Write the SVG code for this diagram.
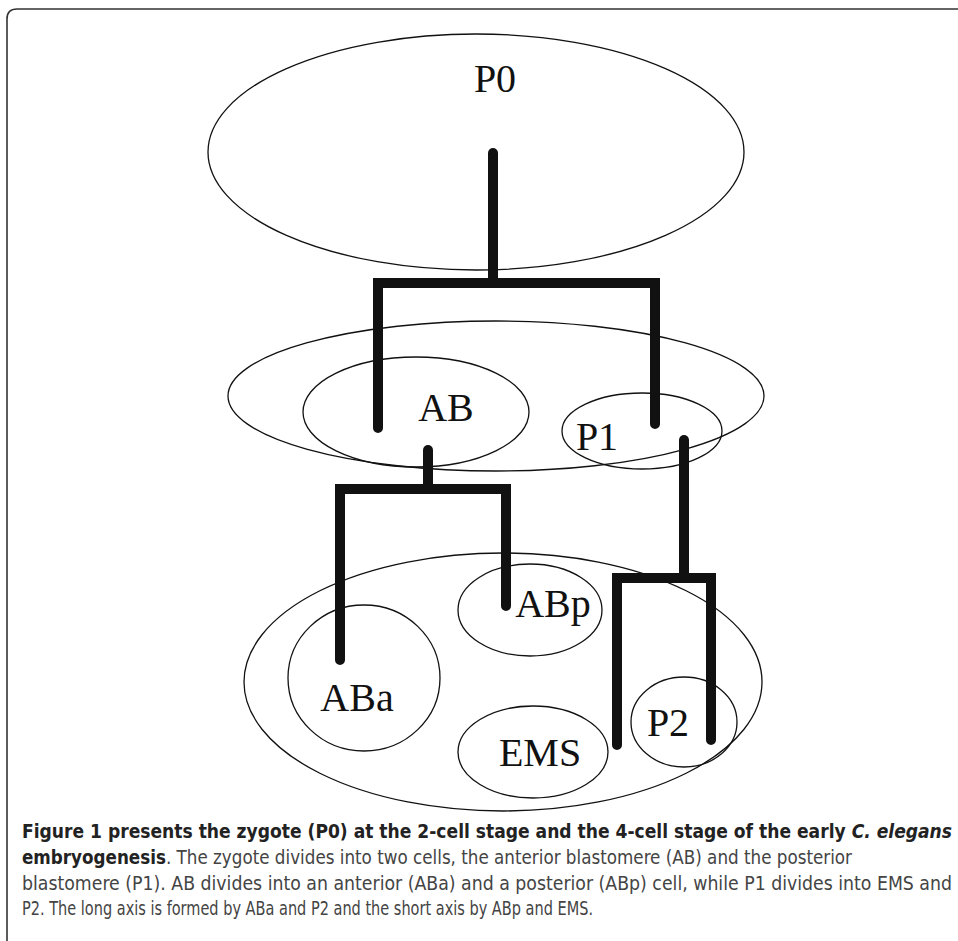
<svg xmlns="http://www.w3.org/2000/svg" width="958" height="941" viewBox="0 0 958 941">
<style>
.cell{fill:none;stroke:#111;stroke-width:1.3}
.lab{font-family:"Liberation Serif","DejaVu Serif",serif;font-size:40px;fill:#111;text-anchor:middle}
.tree{fill:none;stroke:#111;stroke-width:10;stroke-linecap:round;stroke-linejoin:miter}
.cap{font-family:"Liberation Sans Narrow","DejaVu Sans Condensed","Liberation Sans",sans-serif;font-stretch:condensed;font-size:19px;fill:#444}
.b{font-weight:bold;fill:#222}
</style>
<rect width="958" height="941" fill="#fff"/>
<path d="M7 941 V19 Q7 9 17 9 H958" fill="none" stroke="#333" stroke-width="1.6"/>
<g id="P0"><ellipse class="cell" cx="476" cy="152" rx="268" ry="118"/><text class="lab" x="495" y="92">P0</text></g>
<g id="stage2"><ellipse class="cell" cx="496" cy="396" rx="268" ry="75"/></g>
<g id="AB"><ellipse class="cell" cx="416" cy="412" rx="113" ry="55"/><text class="lab" x="446" y="421">AB</text></g>
<g id="P1"><ellipse class="cell" cx="642" cy="431" rx="80" ry="38"/><text class="lab" x="597" y="450">P1</text></g>
<g id="stage4"><ellipse class="cell" cx="503" cy="682" rx="259" ry="129"/></g>
<g id="ABa"><ellipse class="cell" cx="364" cy="678" rx="76" ry="73"/><text class="lab" x="357" y="711">ABa</text></g>
<g id="ABp"><ellipse class="cell" cx="530" cy="610" rx="72" ry="46"/><text class="lab" x="553" y="617">ABp</text></g>
<g id="EMS"><ellipse class="cell" cx="533" cy="752" rx="75" ry="46"/><text class="lab" x="540" y="766">EMS</text></g>
<g id="P2"><ellipse class="cell" cx="684" cy="722" rx="53" ry="45"/><text class="lab" x="668" y="736">P2</text></g>
<g id="connectors">
<line class="tree" x1="493" y1="153" x2="493" y2="283"/>
<polyline class="tree" points="378,428 378,283 655,283 655,424"/>
<line class="tree" x1="428" y1="450" x2="428" y2="489"/>
<polyline class="tree" points="340,660 340,489 506,489 506,606"/>
<line class="tree" x1="684" y1="440" x2="684" y2="578"/>
<polyline class="tree" points="617,745 617,578 711,578 711,740"/>
</g>
<g id="caption">
<text class="cap b" x="22" y="838" textLength="930" lengthAdjust="spacingAndGlyphs">Figure 1 presents the zygote (P0) at the 2-cell stage and the 4-cell stage of the early <tspan font-style="italic">C. elegans</tspan></text>
<text class="cap" x="22" y="864" textLength="830" lengthAdjust="spacingAndGlyphs"><tspan class="b">embryogenesis</tspan>. The zygote divides into two cells, the anterior blastomere (AB) and the posterior</text>
<text class="cap" x="22" y="890" textLength="930" lengthAdjust="spacingAndGlyphs">blastomere (P1). AB divides into an anterior (ABa) and a posterior (ABp) cell, while P1 divides into EMS and</text>
<text class="cap" x="22" y="915" textLength="571" lengthAdjust="spacingAndGlyphs">P2. The long axis is formed by ABa and P2 and the short axis by ABp and EMS.</text>
</g>
</svg>
